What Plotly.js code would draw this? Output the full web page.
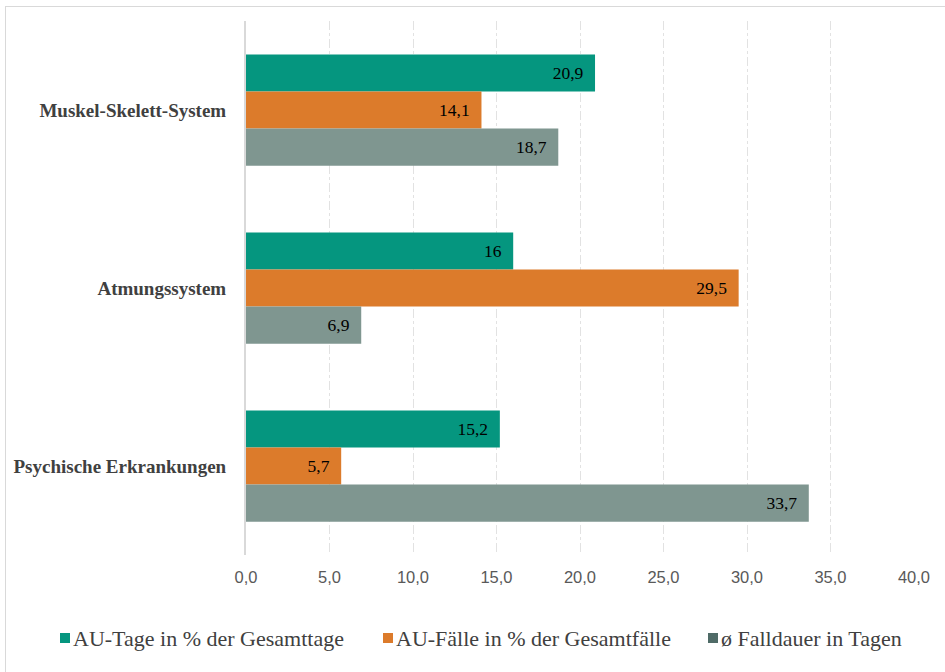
<!DOCTYPE html>
<html>
<head>
<meta charset="utf-8">
<script src="https://cdn.plot.ly/plotly-3.0.1.min.js"></script>
<style>
  html, body { margin: 0; padding: 0; background: #fff; }
  #wrap { position: relative; width: 945px; height: 672px; overflow: hidden; }
  #chart { position: absolute; left: 0; top: 0; width: 945px; height: 672px; }
  #frame { position: absolute; left: 5px; top: 6px; width: 960px; height: 700px;
           border-left: 1.5px solid #d9d9d9; border-top: 1.5px solid #d9d9d9; pointer-events: none; }
</style>
</head>
<body>
<div id="wrap">
  <div id="chart"></div>
  <div id="frame"></div>
</div>
<script>
const categories = ["Muskel-Skelett-System", "Atmungssystem", "Psychische Erkrankungen"];
const seriesNames = ["AU-Tage in % der Gesamttage", "AU-Fälle in % der Gesamtfälle", "ø Falldauer in Tagen"];
const auTage = [20.9, 16, 15.2];
const auFaelle = [14.1, 29.5, 5.7];
const falldauer = [18.7, 6.9, 33.7];
const tickVals = [0, 5, 10, 15, 20, 25, 30, 35, 40];
const tickText = ["0,0", "5,0", "10,0", "15,0", "20,0", "25,0", "30,0", "35,0", "40,0"];

const barColors = ["#05967f", "#dc7b2b", "#7f9690"];
const legendColors = ["#05967f", "#dc7b2b", "#4f6b67"];
const seriesValues = [auTage, auFaelle, falldauer];

const SERIF = "Liberation Serif";
const SANS = "Liberation Sans";

function fmt(v) { return String(v).replace(".", ",") + "\u00a0\u00a0"; }

const traces = [];
seriesValues.forEach((vals, i) => {
  traces.push({
    type: "bar",
    orientation: "h",
    y: categories,
    x: vals,
    name: seriesNames[i],
    showlegend: false,
    marker: { color: barColors[i], line: { width: 0 } },
    text: vals.map(fmt),
    textposition: "inside",
    insidetextanchor: "end",
    constraintext: "none",
    textfont: { family: SERIF, size: 17.5, color: "#000000" },
    hoverinfo: "skip"
  });
});

// plot area in pixels (for placing the legend below it)
const M = { l: 246, r: 31, t: 21, b: 117 };
const W = 945, H = 672;
const pw = W - M.l - M.r, ph = H - M.t - M.b;
const px2paperX = p => (p - M.l) / pw;
const px2paperY = p => (H - M.b - p) / ph;

// legend (drawn as squares + text below the plot)
const legendStartPx = [60, 383, 708];
const legendY = 638;
const shapes = [];
const annotations = [];
seriesNames.forEach((n, i) => {
  const x0 = legendStartPx[i];
  shapes.push({
    type: "rect", xref: "paper", yref: "paper",
    x0: px2paperX(x0), x1: px2paperX(x0 + 10),
    y0: px2paperY(legendY + 5), y1: px2paperY(legendY - 5),
    fillcolor: legendColors[i], line: { width: 0 }
  });
  annotations.push({
    xref: "paper", yref: "paper",
    x: px2paperX(x0 + 11), y: px2paperY(legendY),
    xanchor: "left", yanchor: "middle",
    text: n, showarrow: false,
    font: { family: SERIF, size: 22, color: "#404040" }
  });
});

const layout = {
  width: W, height: H,
  margin: M,
  paper_bgcolor: "#ffffff",
  plot_bgcolor: "#ffffff",
  barmode: "group",
  bargap: 0.375,
  bargroupgap: 0,
  showlegend: false,
  xaxis: {
    range: [0, 40],
    tickvals: tickVals,
    ticktext: tickText,
    showgrid: true,
    gridcolor: "#e2e2e2",
    griddash: "dashdot",
    gridwidth: 1,
    zeroline: false,
    showline: false,
    ticks: "",
    tickfont: { family: SANS, size: 16.5, color: "#595959" },
    ticklabelstandoff: 10,
    fixedrange: true
  },
  yaxis: {
    type: "category",
    categoryorder: "array",
    categoryarray: categories,
    autorange: "reversed",
    showline: true,
    linecolor: "#d9d9d9",
    linewidth: 2,
    showgrid: false,
    zeroline: false,
    ticks: "",
    ticklabelstandoff: 14,
    tickfont: { family: SERIF, size: 19, color: "#404040", weight: "bold" },
    fixedrange: true
  },
  shapes: shapes,
  annotations: annotations
};

Plotly.newPlot("chart", traces, layout, { displayModeBar: false, staticPlot: true });
</script>
</body>
</html>
